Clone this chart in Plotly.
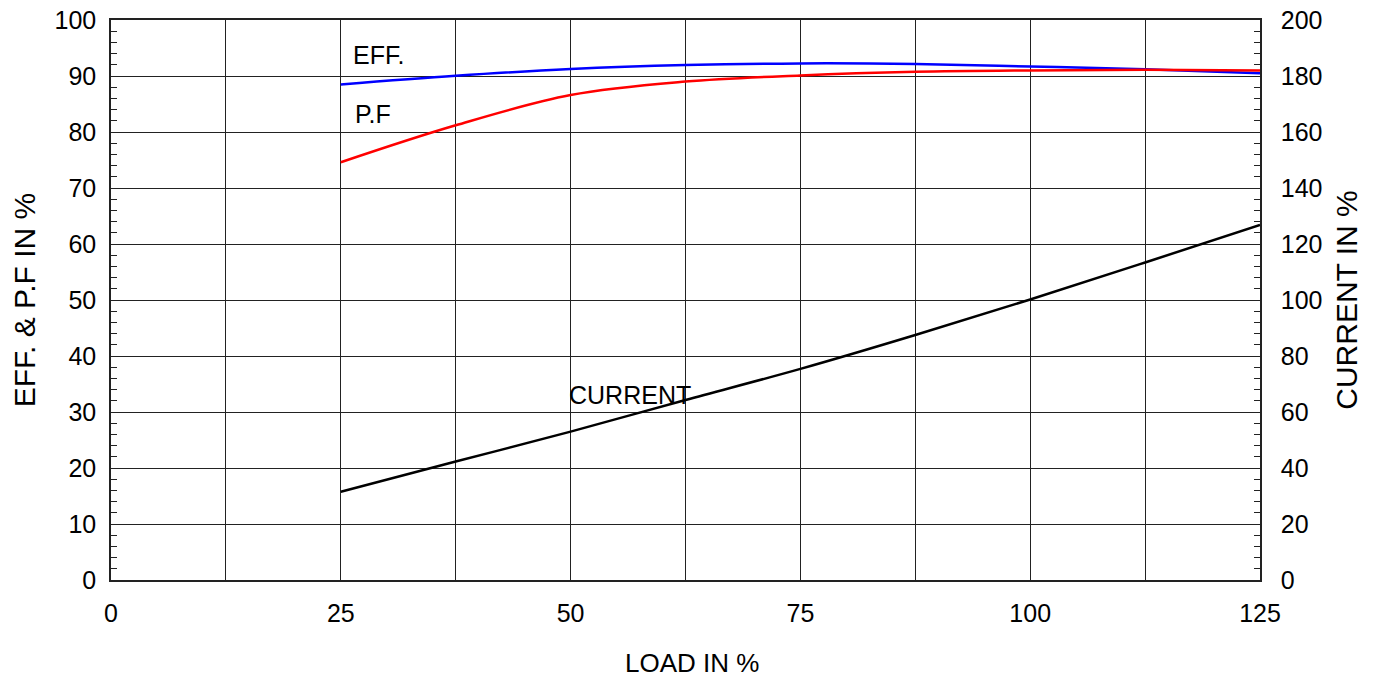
import plotly.graph_objects as go

load = [25, 37.5, 50, 62.5, 75, 87.5, 100, 112.5, 125]
eff = [88.5, 90.05, 91.25, 91.95, 92.25, 92.15, 91.7, 91.2, 90.5]
pf = [74.6, 81.2, 86.6, 89.0, 90.1, 90.75, 91.0, 91.1, 91.0]
current = [31.5, 42.3, 53.0, 64.3, 75.4, 87.5, 100.2, 113.4, 126.8]

FONT = "Liberation Sans, Arial, sans-serif"
FS = 25

fig = go.Figure()
fig.add_trace(go.Scatter(x=load, y=eff, mode="lines", line=dict(color="#0000ff", width=2.5, shape="spline"), showlegend=False))
fig.add_trace(go.Scatter(x=load, y=pf, mode="lines", line=dict(color="#ff0000", width=2.5, shape="spline"), showlegend=False))
fig.add_trace(go.Scatter(x=load, y=current, mode="lines", yaxis="y2", line=dict(color="#000000", width=2.5, shape="spline"), showlegend=False))

fig.add_annotation(x=26.3, y=93.75, text="EFF.", showarrow=False, xanchor="left", yanchor="middle", xshift=-2, font=dict(size=FS, color="black", family=FONT))
fig.add_annotation(x=26.5, y=83.2, text="P.F", showarrow=False, xanchor="left", yanchor="middle", xshift=-2, font=dict(size=FS, color="black", family=FONT))
fig.add_annotation(x=49.8, y=33.1, text="CURRENT", showarrow=False, xanchor="left", yanchor="middle", xshift=-2, font=dict(size=FS, color="black", family=FONT))
# x-axis title
fig.add_annotation(x=0.5, y=0, xref="paper", yref="paper", text="LOAD IN %", showarrow=False,
                   xanchor="center", yanchor="middle", xshift=6, yshift=-83,
                   font=dict(size=26, color="black", family=FONT))

fig.update_layout(
    width=1360, height=669,
    margin=dict(l=103, r=108, t=12, b=97, autoexpand=False),
    plot_bgcolor="white", paper_bgcolor="white",
    font=dict(family=FONT, size=FS, color="black"),
    xaxis=dict(
        range=[0, 125], dtick=25, tick0=0, showgrid=True, gridcolor="#222", gridwidth=1,
        minor=dict(dtick=12.5, showgrid=True, gridcolor="#222", gridwidth=1),
        showline=True, linecolor="#222", linewidth=1.5, mirror=True, ticks="",
        zeroline=False, automargin=False, ticklabeloverflow="allow", ticklabelstandoff=10,
    ),
    yaxis=dict(
        range=[0, 100], dtick=10, tick0=0, showgrid=True, gridcolor="#222", gridwidth=1,
        showline=True, linecolor="#222", linewidth=1.5, ticks="inside", ticklen=6, tickcolor="#222",
        minor=dict(dtick=2, ticks="inside", ticklen=6, tickcolor="#222", showgrid=False),
        zeroline=False, automargin=False, ticklabeloverflow="allow",
        title=dict(text="EFF. & P.F IN %", standoff=33), ticklabelstandoff=8,
    ),
    yaxis2=dict(
        range=[0, 200], dtick=20, tick0=0, overlaying="y", side="right", showgrid=False,
        showline=True, linecolor="#222", linewidth=1.5, ticks="inside", ticklen=6, tickcolor="#222",
        minor=dict(dtick=4, ticks="inside", ticklen=6, tickcolor="#222"),
        zeroline=False, automargin=False, ticklabeloverflow="allow",
        title=dict(text="CURRENT IN %", standoff=15), ticklabelstandoff=14,
    ),
)

fig.write_html("out.html")
